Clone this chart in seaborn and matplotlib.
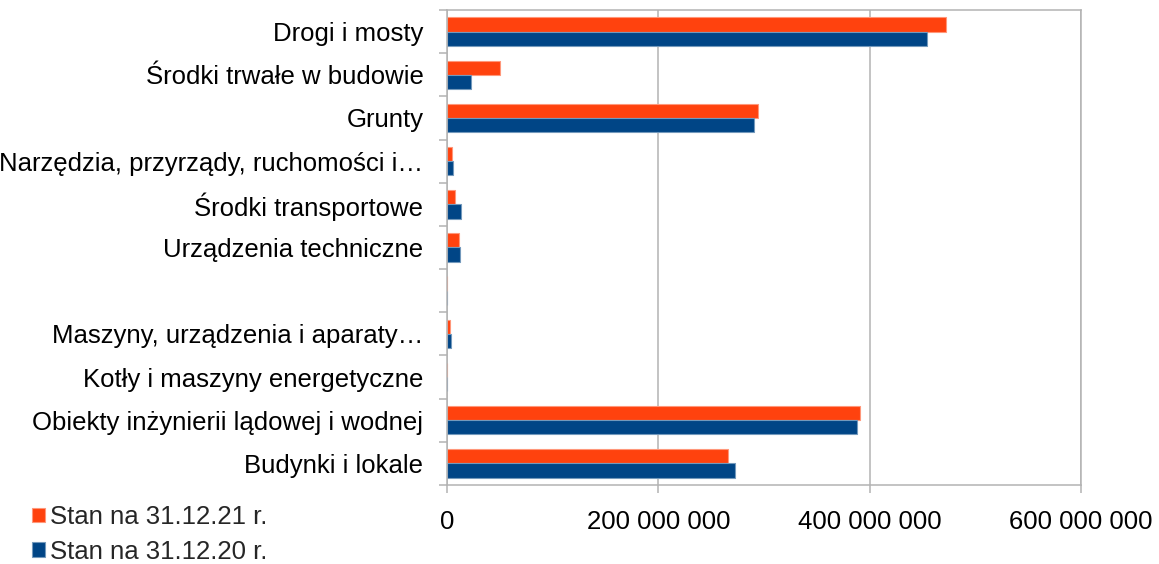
import matplotlib
matplotlib.use("Agg")
import matplotlib.pyplot as plt
import matplotlib.colors as mcolors
from matplotlib.ticker import FixedLocator, FuncFormatter
import numpy as np
import pandas as pd
import seaborn as sns

categories = [
    "Drogi i mosty",
    "Środki trwałe w budowie",
    "Grunty",
    "Narzędzia, przyrządy, ruchomości i…",
    "Środki transportowe",
    "Urządzenia techniczne",
    " ",
    "Maszyny, urządzenia i aparaty…",
    "Kotły i maszyny energetyczne",
    "Obiekty inżynierii lądowej i wodnej",
    "Budynki i lokale",
]
series_names = ["Stan na 31.12.21 r.", "Stan na 31.12.20 r."]
values_2021 = [471.8e6, 50.0e6, 294.2e6, 4.9e6, 7.8e6, 11.2e6, 0.0, 2.7e6, 0.3e6, 390.4e6, 265.5e6]
values_2020 = [454.2e6, 22.5e6, 290.8e6, 5.5e6, 13.1e6, 12.5e6, 0.0, 3.6e6, 0.3e6, 387.9e6, 272.8e6]
x_ticks = [0, 200e6, 400e6, 600e6]
colors = ["#FF420E", "#004586"]

df = pd.DataFrame({
    "kategoria": categories * 2,
    "wartość": values_2021 + values_2020,
    "seria": [series_names[0]] * len(categories) + [series_names[1]] * len(categories),
})

sns.set_theme(style="white")
plt.rcParams["font.family"] = ["Liberation Sans", "DejaVu Sans"]
FS = 18.5

W, H = 1159, 564
fig = plt.figure(figsize=(W / 100, H / 100), dpi=100)
ax = fig.add_axes([447 / W, 1 - 485 / H, (1081 - 447) / W, (485 - 10) / H])

sns.barplot(data=df, y="kategoria", x="wartość", hue="seria", order=categories,
            hue_order=series_names, palette=colors, orient="h", width=0.66,
            ax=ax, legend=True, saturation=1)

for p in ax.patches:
    fc = mcolors.to_rgb(p.get_facecolor())
    light = tuple(c + (1 - c) * 0.45 for c in fc)
    p.set_edgecolor(light)
    p.set_linewidth(0.8)

gray = "#b3b3b3"
ax.set_xlim(0, 600e6)
ax.set_ylim(len(categories) - 0.5, -0.5)
ax.xaxis.set_major_locator(FixedLocator(x_ticks))
ax.xaxis.set_major_formatter(FuncFormatter(lambda v, p: f"{int(v):,}".replace(",", " ")))
ax.grid(axis="x", color=gray, linewidth=1.1)
ax.grid(axis="y", visible=False)
ax.set_axisbelow(True)
for s in ax.spines.values():
    s.set_visible(True)
    s.set_color(gray)
    s.set_linewidth(1.1)

ax.tick_params(axis="x", which="major", bottom=True, length=6, width=1.1, color=gray,
               labelsize=FS, labelcolor="black", pad=12)
ax.yaxis.set_minor_locator(FixedLocator(np.arange(-0.5, len(categories), 1.0)))
ax.tick_params(axis="y", which="minor", left=True, length=6, width=1.1, color=gray)
ax.tick_params(axis="y", which="major", left=True, length=0, labelsize=FS,
               labelcolor="black", pad=17)
ax.set_xlabel("")
ax.set_ylabel("")

handles, labels = ax.get_legend_handles_labels()
ax.legend_.remove()
fig.legend(handles, labels, loc="upper left", bbox_to_anchor=(32 / W, 1 - 505 / H),
           frameon=False, fontsize=FS, borderpad=0, borderaxespad=0,
           handlelength=0.5, handleheight=0.5, handletextpad=0.2, labelspacing=0.42)

fig.savefig("out.png", dpi=100)
